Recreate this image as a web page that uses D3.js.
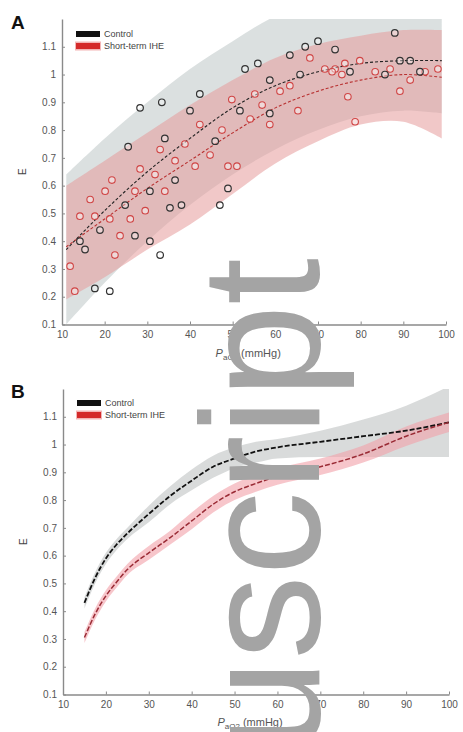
<!DOCTYPE html>
<html>
<head>
<meta charset="utf-8">
<script src="https://d3js.org/d3.v7.min.js"></script>
<style>
body { margin: 0; background: #fff; }
svg { display: block; font-family: "Liberation Sans", Arial, sans-serif; }
</style>
</head>
<body>
<div id="chartContainer"></div>
<script>
var width = 463,
    height = 732;

// ---- shared axis ticks
var xTicks = [10, 20, 30, 40, 50, 60, 70, 80, 90, 100];
var yTicks = [0.1, 0.2, 0.3, 0.4, 0.5, 0.6, 0.7, 0.8, 0.9, 1, 1.1];

// ---- Panel A: measured points
var ctrlPaO2A = [17.7, 21.2, 14.2, 15.4, 18.9, 24.8, 30.6, 33.0, 27.1, 30.6, 35.3, 38.0, 25.5, 28.3, 33.4, 34.1, 36.5, 40.0, 42.3, 45.9, 48.9, 47.0, 52.9, 55.9, 51.7, 58.7, 58.7, 63.4, 67.0, 70.0, 65.8, 74.0, 77.5, 88.0, 89.2, 91.6, 85.7, 93.9];
var ctrlFA    = [0.23, 0.22, 0.40, 0.37, 0.44, 0.53, 0.40, 0.35, 0.42, 0.58, 0.52, 0.53, 0.74, 0.88, 0.90, 0.77, 0.62, 0.87, 0.93, 0.76, 0.59, 0.53, 1.02, 1.04, 0.87, 0.98, 0.86, 1.07, 1.10, 1.12, 1.00, 1.09, 1.01, 1.15, 1.05, 1.05, 1.00, 1.01];
var stPaO2A   = [11.9, 13.0, 14.2, 16.6, 17.7, 20.1, 21.2, 22.4, 23.6, 21.7, 26.0, 27.1, 28.3, 29.5, 31.8, 33.0, 34.1, 36.5, 38.8, 41.2, 42.3, 44.7, 47.5, 48.9, 51.0, 49.8, 54.1, 55.2, 56.9, 58.7, 61.1, 63.4, 65.3, 68.1, 71.6, 74.0, 75.6, 77.0, 78.7, 79.8, 83.4, 86.9, 89.2, 91.6, 95.1, 98.1, 76.3, 73.3];
var stFA      = [0.31, 0.22, 0.49, 0.55, 0.49, 0.58, 0.48, 0.35, 0.42, 0.62, 0.48, 0.58, 0.66, 0.51, 0.64, 0.73, 0.58, 0.69, 0.75, 0.67, 0.82, 0.71, 0.80, 0.67, 0.67, 0.91, 0.84, 0.93, 0.89, 0.82, 0.94, 0.96, 0.87, 1.06, 1.02, 1.02, 1.00, 0.92, 0.83, 1.05, 1.01, 1.02, 0.94, 0.98, 1.01, 1.02, 1.04, 1.01];

// ---- Panel A: fitted curves and prediction bands
var gridA     = [11, 20, 30, 40, 50, 60, 70, 80, 90, 99];
var ctrlMeanA = [0.37, 0.51, 0.65, 0.77, 0.88, 0.96, 1.01, 1.04, 1.05, 1.05];
var ctrlLoA   = [0.10, 0.25, 0.40, 0.53, 0.64, 0.73, 0.80, 0.85, 0.87, 0.86];
var ctrlHiA   = [0.64, 0.77, 0.90, 1.02, 1.12, 1.21, 1.26, 1.28, 1.28, 1.28];
var stMeanA   = [0.38, 0.48, 0.59, 0.69, 0.79, 0.88, 0.94, 0.98, 1.00, 0.99];
var stLoA     = [0.19, 0.27, 0.37, 0.46, 0.57, 0.68, 0.76, 0.82, 0.83, 0.77];
var stHiA     = [0.60, 0.69, 0.79, 0.89, 0.98, 1.06, 1.11, 1.14, 1.16, 1.16];

// ---- Panel B: model curves with confidence bands
var gridB     = [15, 17.5, 20, 22.5, 25, 30, 35, 40, 45, 50, 55, 60, 70, 80, 90, 100];
var ctrlMeanB = [0.43, 0.52, 0.59, 0.64, 0.68, 0.75, 0.815, 0.87, 0.92, 0.95, 0.975, 0.99, 1.01, 1.03, 1.05, 1.08];
var ctrlLoB   = [0.41, 0.50, 0.57, 0.62, 0.66, 0.72, 0.785, 0.835, 0.88, 0.915, 0.935, 0.95, 0.955, 0.955, 0.955, 0.955];
var ctrlHiB   = [0.45, 0.54, 0.61, 0.66, 0.70, 0.78, 0.85, 0.91, 0.96, 0.99, 1.01, 1.02, 1.05, 1.09, 1.14, 1.21];
var stMeanB   = [0.305, 0.39, 0.455, 0.505, 0.55, 0.61, 0.665, 0.725, 0.785, 0.83, 0.86, 0.885, 0.92, 0.966, 1.03, 1.08];
var stLoB     = [0.285, 0.37, 0.435, 0.485, 0.53, 0.585, 0.64, 0.695, 0.755, 0.80, 0.83, 0.855, 0.89, 0.935, 0.995, 1.045];
var stHiB     = [0.325, 0.41, 0.475, 0.525, 0.57, 0.635, 0.69, 0.755, 0.815, 0.86, 0.89, 0.915, 0.95, 0.997, 1.065, 1.115];

var legendLabels = ["Control", "Short-term IHE"];


function zip(xs, ys) {
	var out = [];
	for (var i = 0; i < xs.length; i++) {
		out.push({x: xs[i], y: ys[i]});
	}
	return out;
}

function bandData(xs, lo, hi) {
	var out = [];
	for (var i = 0; i < xs.length; i++) {
		out.push({x: xs[i], lo: lo[i], hi: hi[i]});
	}
	return out;
}


function drawFrame(svg, cfg) {
	var g = svg.append("g");

	var x = d3.scaleLinear().domain([10, 100]).range([cfg.left, cfg.right]);
	var y = d3.scaleLinear().domain([0.1, 1.2]).range([cfg.bottom, cfg.top]);

	svg.append("clipPath")
		.attr("id", cfg.id + "-clip")
		.append("rect")
		.attr("x", x(10))
		.attr("y", y(1.2))
		.attr("width", x(100) - x(10))
		.attr("height", y(0.1) - y(1.2));

	var plot = g.append("g").attr("clip-path", "url(#" + cfg.id + "-clip)");

	return {g: g, plot: plot, x: x, y: y};
}

function drawAxes(frame, cfg) {
	var x = frame.x, y = frame.y, g = frame.g;

	var xAxis = g.append("g")
		.attr("transform", "translate(0," + y(0.1) + ")")
		.call(d3.axisBottom(x).tickValues(xTicks).tickSizeInner(-3).tickSizeOuter(0).tickPadding(6));

	var yAxis = g.append("g")
		.attr("transform", "translate(" + x(10) + ",0)")
		.call(d3.axisLeft(y).tickValues(yTicks).tickSizeInner(-3).tickSizeOuter(0).tickPadding(6)
			.tickFormat(d3.format("~g")));

	[xAxis, yAxis].forEach(function(a) {
		a.select(".domain").attr("stroke", "#8a8a8a").attr("stroke-width", 1.4);
		a.selectAll(".tick line").attr("stroke", "#8a8a8a");
		a.selectAll(".tick text")
			.attr("fill", "#555")
			.style("font-size", "10px");
	});

	// x title: P_aO2 (mmHg)
	var title = g.append("text")
		.attr("x", x(46))
		.attr("y", y(0.1) + cfg.titleOffset)
		.attr("fill", "#555")
		.style("font-size", "11px");
	title.append("tspan").style("font-style", "italic").text("P");
	title.append("tspan").attr("dy", 3).style("font-size", "8px").text("aO2");
	title.append("tspan").attr("dy", -3).text(" (mmHg)");

	// y title
	g.append("text")
		.attr("transform", "translate(" + (x(10) - 36) + "," + y(0.65) + ") rotate(-90)")
		.attr("text-anchor", "middle")
		.attr("fill", "#444")
		.style("font-size", "10px")
		.text("E");

	// panel letter
	g.append("text")
		.attr("x", cfg.letterX)
		.attr("y", cfg.letterY)
		.attr("fill", "#111")
		.style("font-size", "19px")
		.style("font-weight", "bold")
		.text(cfg.letter);

	// legend
	var lg = g.append("g");
	var colors = ["#111", "#d42a2a"];
	legendLabels.forEach(function(label, i) {
		var ly = cfg.legendY + i * 12;
		if (i === 1) {
			lg.append("rect")
				.attr("x", x(10) + 13).attr("y", ly - 1.5)
				.attr("width", 26).attr("height", 9)
				.attr("fill", "#f3b5b5");
		}
		lg.append("rect")
			.attr("x", x(10) + 14).attr("y", ly)
			.attr("width", 24).attr("height", 6)
			.attr("fill", colors[i]);
		lg.append("text")
			.attr("x", x(10) + 42).attr("y", ly + 6)
			.attr("fill", "#444")
			.style("font-size", "9px")
			.text(label);
	});
}


function drawPanelA(svg) {
	var cfg = {id: "pa", left: 62, right: 446, top: 19, bottom: 324.5,
		letter: "A", letterX: 11, letterY: 29, legendY: 31, titleOffset: 32};
	var f = drawFrame(svg, cfg);
	var x = f.x, y = f.y;

	var band = d3.area()
		.x(function(d) { return x(d.x); })
		.y0(function(d) { return y(d.lo); })
		.y1(function(d) { return y(d.hi); })
		.curve(d3.curveCatmullRom);

	f.plot.append("path")
		.attr("d", band(bandData(gridA, ctrlLoA, ctrlHiA)))
		.attr("fill", "#c8cfcf")
		.attr("fill-opacity", 0.65);

	f.plot.append("path")
		.attr("d", band(bandData(gridA, stLoA, stHiA)))
		.attr("fill", "#e59a9a")
		.attr("fill-opacity", 0.55);

	var line = d3.line()
		.x(function(d) { return x(d.x); })
		.y(function(d) { return y(d.y); })
		.curve(d3.curveCatmullRom);

	f.plot.append("path")
		.attr("d", line(zip(gridA, ctrlMeanA)))
		.attr("fill", "none")
		.attr("stroke", "#222")
		.attr("stroke-width", 1.1)
		.attr("stroke-dasharray", "3,2");

	f.plot.append("path")
		.attr("d", line(zip(gridA, stMeanA)))
		.attr("fill", "none")
		.attr("stroke", "#b83030")
		.attr("stroke-width", 1.1)
		.attr("stroke-dasharray", "3,2");

	f.plot.selectAll(".pt-st")
		.data(zip(stPaO2A, stFA))
		.enter().append("circle")
		.attr("class", "pt-st")
		.attr("cx", function(d) { return x(d.x); })
		.attr("cy", function(d) { return y(d.y); })
		.attr("r", 3.3)
		.attr("fill", "#fff")
		.attr("fill-opacity", 0.45)
		.attr("stroke", "#d04545")
		.attr("stroke-width", 1.1);

	f.plot.selectAll(".pt-ct")
		.data(zip(ctrlPaO2A, ctrlFA))
		.enter().append("circle")
		.attr("class", "pt-ct")
		.attr("cx", function(d) { return x(d.x); })
		.attr("cy", function(d) { return y(d.y); })
		.attr("r", 3.3)
		.attr("fill", "#fff")
		.attr("fill-opacity", 0.35)
		.attr("stroke", "#333")
		.attr("stroke-width", 1.2);

	drawAxes(f, cfg);
}


function drawPanelB(svg) {
	var cfg = {id: "pb", left: 63, right: 449, top: 389, bottom: 694.5,
		letter: "B", letterX: 11, letterY: 398, legendY: 400, titleOffset: 31};
	var f = drawFrame(svg, cfg);
	var x = f.x, y = f.y;

	var band = d3.area()
		.x(function(d) { return x(d.x); })
		.y0(function(d) { return y(d.lo); })
		.y1(function(d) { return y(d.hi); })
		.curve(d3.curveMonotoneX);

	f.plot.append("path")
		.attr("d", band(bandData(gridB, ctrlLoB, ctrlHiB)))
		.attr("fill", "#c9cccc")
		.attr("fill-opacity", 0.7);

	f.plot.append("path")
		.attr("d", band(bandData(gridB, stLoB, stHiB)))
		.attr("fill", "#f2a0a8")
		.attr("fill-opacity", 0.6);

	var line = d3.line()
		.x(function(d) { return x(d.x); })
		.y(function(d) { return y(d.y); })
		.curve(d3.curveMonotoneX);

	f.plot.append("path")
		.attr("d", line(zip(gridB, ctrlMeanB)))
		.attr("fill", "none")
		.attr("stroke", "#111")
		.attr("stroke-width", 1.8)
		.attr("stroke-dasharray", "5,2");

	f.plot.append("path")
		.attr("d", line(zip(gridB, stMeanB)))
		.attr("fill", "none")
		.attr("stroke", "#9a2b35")
		.attr("stroke-width", 1.5)
		.attr("stroke-dasharray", "5,2");

	drawAxes(f, cfg);
}


function draw() {
	"use strict";

	var svg = d3.select("#chartContainer")
		.append("svg")
		.attr("width", width)
		.attr("height", height);

	drawPanelA(svg);
	drawPanelB(svg);

	// repository watermark running up the page (cut by the bottom edge, as in the source)
	svg.append("text")
		.attr("transform", "translate(319,258) rotate(-90)")
		.attr("text-anchor", "end")
		.attr("fill", "#a4a4a4")
		.style("font-size", "168px")
		.text("Author Manuscript");
}

draw();
</script>
</body>
</html>
